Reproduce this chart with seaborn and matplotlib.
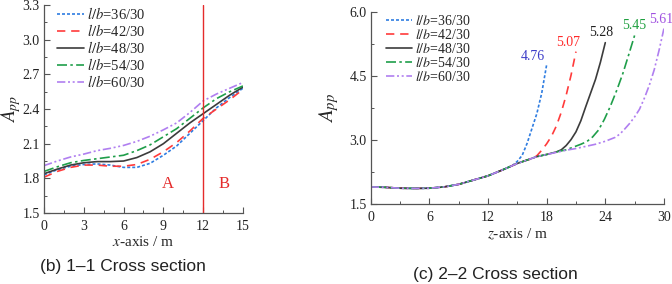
import matplotlib
matplotlib.use('Agg')
import matplotlib.pyplot as plt
import pandas as pd
import seaborn as sns
from matplotlib.ticker import AutoMinorLocator, MultipleLocator

# series labels and styles
series_names = ['$l/b$=36/30', '$l/b$=42/30', '$l/b$=48/30', '$l/b$=54/30', '$l/b$=60/30']
line_colors = ['#2f7de1', '#ff3b3b', '#3c3c3c', '#1f9e4a', '#b07ff0']
label_colors = ['#3c3cc8', '#ff2a2a', '#202020', '#20a040', '#a050e0']

# (b) 1-1 cross section, values read along x-axis
x_b = [0, 1, 2, 3, 4, 5, 6, 7, 8, 9, 10, 11, 12, 13, 14, 15]
b_36 = [1.83, 1.875, 1.905, 1.92, 1.925, 1.915, 1.895, 1.895, 1.93, 2.00, 2.08, 2.19, 2.30, 2.41, 2.50, 2.58]
b_42 = [1.81, 1.86, 1.895, 1.915, 1.915, 1.905, 1.905, 1.92, 1.965, 2.03, 2.11, 2.21, 2.32, 2.40, 2.48, 2.57]
b_48 = [1.84, 1.88, 1.915, 1.935, 1.945, 1.945, 1.95, 1.98, 2.03, 2.10, 2.19, 2.28, 2.36, 2.44, 2.52, 2.59]
b_54 = [1.86, 1.90, 1.935, 1.955, 1.97, 1.985, 2.00, 2.04, 2.09, 2.16, 2.23, 2.32, 2.41, 2.49, 2.55, 2.60]
b_60 = [1.91, 1.95, 1.985, 2.01, 2.04, 2.06, 2.085, 2.12, 2.165, 2.22, 2.28, 2.37, 2.47, 2.53, 2.58, 2.63]

# (c) 2-2 cross section, shared start then each curve's own rise
z_common = [0, 1.5, 3, 4.5, 6, 7.5, 9, 10.5, 12, 13.5, 14.5]
y_common = [1.90, 1.89, 1.87, 1.865, 1.87, 1.90, 1.96, 2.06, 2.16, 2.30, 2.40]
z_36 = [15, 15.5, 16, 16.5, 17, 17.5, 18]
c_36 = [2.50, 2.64, 2.92, 3.27, 3.62, 4.10, 4.76]
z_42 = [15, 16, 16.5, 17, 17.5, 18, 18.5, 19, 19.5, 20, 20.5, 21]
c_42 = [2.45, 2.53, 2.56, 2.63, 2.76, 2.91, 3.09, 3.33, 3.65, 4.05, 4.52, 5.07]
z_48 = [15, 16, 17, 18, 19, 19.5, 20, 20.5, 21, 21.5, 22, 22.5, 23, 23.5, 24]
c_48 = [2.45, 2.53, 2.61, 2.66, 2.72, 2.77, 2.87, 3.01, 3.19, 3.45, 3.78, 4.10, 4.42, 4.82, 5.28]
z_54 = [15, 16, 17, 18, 19, 20, 20.7, 21.5, 22.1, 22.7, 23.3, 23.9, 24.5, 25.2, 25.8, 26.4, 27]
c_54 = [2.45, 2.53, 2.61, 2.66, 2.72, 2.77, 2.83, 2.90, 2.96, 3.07, 3.23, 3.48, 3.78, 4.18, 4.56, 5.00, 5.45]
z_60 = [15, 16, 17, 18, 19, 20, 21, 22, 23, 24, 25, 25.5, 26, 26.5, 27, 27.5, 28, 28.5, 29, 29.5, 30]
c_60 = [2.45, 2.53, 2.61, 2.66, 2.71, 2.76, 2.80, 2.85, 2.90, 2.97, 3.06, 3.14, 3.26, 3.39, 3.54, 3.72, 3.98, 4.28, 4.64, 5.10, 5.61]
peak_labels = ['4.76', '5.07', '5.28', '5.45', '5.61']
label_offsets = [(-14, 8), (-8, 9), (-4, 10), (0, 10), (-3, 9)]


def long_frame(xs_list, ys_list):
    rows = []
    for name, xs, ys in zip(series_names, xs_list, ys_list):
        for xv, yv in zip(xs, ys):
            rows.append({'x': xv, 'y': yv, 'series': name})
    return pd.DataFrame(rows)


df_b = long_frame([x_b] * 5, [b_36, b_42, b_48, b_54, b_60])
df_c = long_frame([z_common + z for z in [z_36, z_42, z_48, z_54, z_60]],
                  [y_common + c for c in [c_36, c_42, c_48, c_54, c_60]])

sns.set_theme(style='ticks')
plt.rcParams['font.family'] = ['Liberation Serif', 'DejaVu Serif']
plt.rcParams['mathtext.fontset'] = 'stix'

palette = dict(zip(series_names, line_colors))
dashes = dict(zip(series_names, [(1.8, 1.2), (5, 3.5), '', (6, 2, 1.5, 2), (5, 1.6, 1.2, 1.6, 1.2, 1.6)]))

fig = plt.figure(figsize=(6.72, 2.84), dpi=100)
ax1 = fig.add_axes([0.0655, 0.25, 0.296, 0.732])
ax2 = fig.add_axes([0.5516, 0.2817, 0.4364, 0.6763])


def draw(ax, df, legend_anchor, spacing, legend_size):
    sns.lineplot(data=df, x='x', y='y', hue='series', style='series',
                 hue_order=series_names, style_order=series_names,
                 palette=palette, dashes=dashes, estimator=None, sort=False,
                 lw=1.2, ax=ax)
    handles, labels = ax.get_legend_handles_labels()
    ax.legend(handles, labels, loc='upper left', bbox_to_anchor=legend_anchor,
              frameon=False, fontsize=legend_size, handlelength=1.9, handletextpad=0.2,
              labelspacing=spacing, borderaxespad=0, borderpad=0)
    for side in ['top', 'right']:
        ax.spines[side].set_visible(False)
    for side in ['left', 'bottom']:
        ax.spines[side].set_color('#555555')
        ax.spines[side].set_linewidth(0.9)
    ax.xaxis.set_minor_locator(AutoMinorLocator(2))
    ax.yaxis.set_minor_locator(AutoMinorLocator(2))
    ax.tick_params(which='both', direction='in', color='#555555', labelsize=10, labelcolor='#222222')
    ax.tick_params(which='major', length=4, width=0.8)
    ax.tick_params(which='minor', length=2, width=0.7)
    ax.tick_params(axis='x', pad=5)
    ax.tick_params(axis='y', pad=3)


draw(ax1, df_b, (0.064, 0.995), 0.06, 10.5)
ax1.set_xlim(0, 15)
ax1.set_ylim(1.5, 3.3)
ax1.xaxis.set_major_locator(MultipleLocator(3))
ax1.yaxis.set_major_locator(MultipleLocator(0.3))
ax1.yaxis.set_major_formatter(matplotlib.ticker.FormatStrFormatter('%.1f'))
ax1.axvline(12, color='#e52b2b', lw=1.0)
ax1.text(9.35, 1.75, 'A', color='#e52b2b', fontsize=12, ha='center', va='center')
ax1.text(13.6, 1.75, 'B', color='#e52b2b', fontsize=12, ha='center', va='center')
ax1.set_xlabel('$x$-axis / m', fontsize=11)
ax1.set_ylabel('$A_{pp}$', fontsize=14)
ax1.xaxis.set_label_coords(0.5, -0.105)
ax1.yaxis.set_label_coords(-0.105, 0.5)

draw(ax2, df_c, (0.052, 0.99), 0.0, 10)
ax2.set_xlim(0, 30)
ax2.set_ylim(1.5, 6.0)
ax2.xaxis.set_major_locator(MultipleLocator(6))
ax2.yaxis.set_major_locator(MultipleLocator(1.5))
ax2.yaxis.set_major_formatter(matplotlib.ticker.FormatStrFormatter('%.1f'))
ax2.set_xlabel('$z$-axis / m', fontsize=11)
ax2.set_ylabel('$A_{pp}$', fontsize=15)
ax2.xaxis.set_label_coords(0.5, -0.12)
ax2.yaxis.set_label_coords(-0.1, 0.5)

ends_z = [z_36[-1], z_42[-1], z_48[-1], z_54[-1], z_60[-1]]
ends_y = [c_36[-1], c_42[-1], c_48[-1], c_54[-1], c_60[-1]]
for zv, yv, txt, col, off in zip(ends_z, ends_y, peak_labels, label_colors, label_offsets):
    ax2.annotate(txt, xy=(zv, yv), xytext=off, textcoords='offset pixels',
                 ha='center', va='center', fontsize=10, color=col, annotation_clip=False)

fig.text(122.5 / 672, 1 - 266 / 284, '(b) 1\u20131 Cross section', family='Liberation Sans',
         fontsize=12.5, ha='center', va='center', color='#222222')
fig.text(495 / 672, 1 - 275 / 284, '(c) 2\u20132 Cross section', family='Liberation Sans',
         fontsize=12.5, ha='center', va='center', color='#222222')

fig.savefig('out.png', dpi=100)
